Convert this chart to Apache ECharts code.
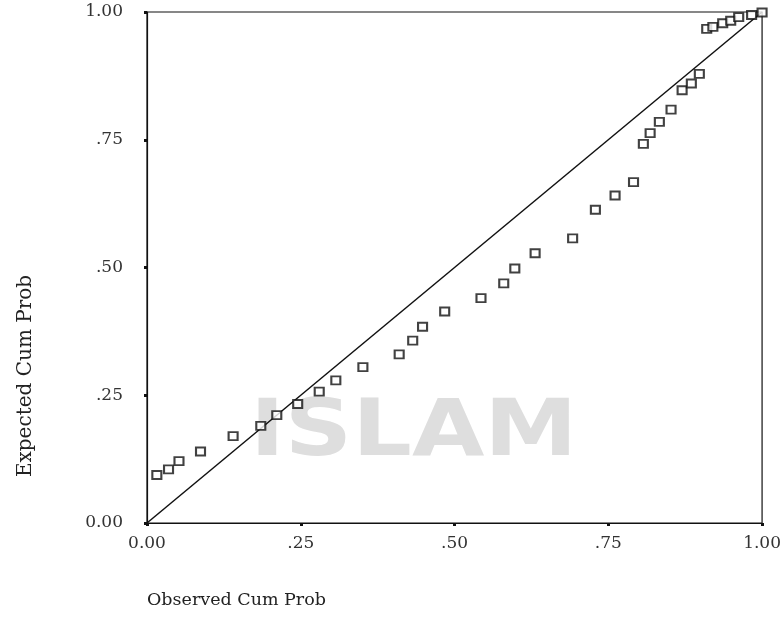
<!DOCTYPE html>
<html>
<head>
<meta charset="utf-8">
<script src="https://cdn.jsdelivr.net/npm/echarts@6/dist/echarts.min.js"></script>
<style>
html,body{margin:0;padding:0;background:#fff;}
#wrap{position:relative;width:784px;height:629px;}
#wm{position:absolute;left:250px;top:389px;font:bold 78px/1 "DejaVu Sans";color:#dedede;transform:scaleX(1.2);transform-origin:0 0;white-space:nowrap;}
#chart{position:absolute;left:0;top:0;width:784px;height:629px;}
</style>
</head>
<body>
<div id="wrap">
<div id="wm">ISLAM</div>
<div id="chart"></div>
</div>
<script>
// Observed cumulative probability (x) and expected cumulative probability (y)
const observed = [0.016, 0.035, 0.052, 0.087, 0.140, 0.185, 0.211, 0.245, 0.280, 0.307,
  0.351, 0.410, 0.432, 0.448, 0.484, 0.543, 0.580, 0.598, 0.631, 0.692,
  0.729, 0.761, 0.791, 0.807, 0.818, 0.833, 0.852, 0.870, 0.885, 0.898,
  0.910, 0.920, 0.936, 0.949, 0.962, 0.983, 1.000];
const expected = [0.094, 0.105, 0.121, 0.140, 0.170, 0.190, 0.211, 0.233, 0.257, 0.279,
  0.305, 0.330, 0.357, 0.384, 0.414, 0.440, 0.469, 0.498, 0.528, 0.557,
  0.613, 0.641, 0.667, 0.742, 0.763, 0.785, 0.809, 0.847, 0.860, 0.879,
  0.967, 0.971, 0.978, 0.983, 0.990, 0.994, 0.999];
const refLine = [[0, 0], [1, 1]];
const xTickLabels = {0: '0.00', 0.25: '.25', 0.5: '.50', 0.75: '.75', 1: '1.00'};
const yTickLabels = {0: '0.00', 0.25: '.25', 0.5: '.50', 0.75: '.75', 1: '1.00'};
const xTitle = 'Observed Cum Prob';
const yTitle = 'Expected Cum Prob';

const chart = echarts.init(document.getElementById('chart'));
const font = 'DejaVu Serif';
const pts = observed.map((x, i) => [x, expected[i]]);
const fmt = map => v => { const k = Math.round(v * 100) / 100; return map[k] !== undefined ? map[k] : ''; };

chart.setOption({
  animation: false,
  backgroundColor: 'transparent',
  graphic: [
    {type: 'text', x: 26, y: 376, rotation: Math.PI / 2, silent: true,
     style: {text: yTitle, fill: '#222', font: '20px "DejaVu Serif"', align: 'center', verticalAlign: 'middle'}},
    {type: 'text', x: 147, y: 600, silent: true,
     style: {text: xTitle, fill: '#222', font: '17.5px "DejaVu Serif"', align: 'left', verticalAlign: 'middle'}}
  ],
  grid: {left: 147, right: 21, top: 12, bottom: 106, show: true, borderColor: '#111', borderWidth: 1.2, backgroundColor: 'transparent'},
  xAxis: {
    type: 'value', min: 0, max: 1, interval: 0.25,
    axisLine: {show: true, onZero: false, lineStyle: {color: '#111', width: 1.2}},
    axisTick: {show: true, length: 3, lineStyle: {color: '#111', width: 3}},
    splitLine: {show: false},
    axisLabel: {formatter: fmt(xTickLabels), color: '#333', fontFamily: font, fontSize: 17, margin: 12}
  },
  yAxis: {
    type: 'value', min: 0, max: 1, interval: 0.25,
    axisLine: {show: true, onZero: false, lineStyle: {color: '#111', width: 1.2}},
    axisTick: {show: true, length: 3, lineStyle: {color: '#111', width: 3}},
    splitLine: {show: false},
    axisLabel: {formatter: fmt(yTickLabels), color: '#333', fontFamily: font, fontSize: 17, margin: 24}
  },
  series: [
    {type: 'line', data: refLine, symbol: 'none', lineStyle: {color: '#111', width: 1.5}, z: 2, silent: true},
    {type: 'scatter', data: pts, symbol: 'emptyRect', symbolSize: [9, 8],
     itemStyle: {color: '#111', borderColor: '#111', borderWidth: 1.6}, z: 3}
  ]
});
</script>
</body>
</html>
